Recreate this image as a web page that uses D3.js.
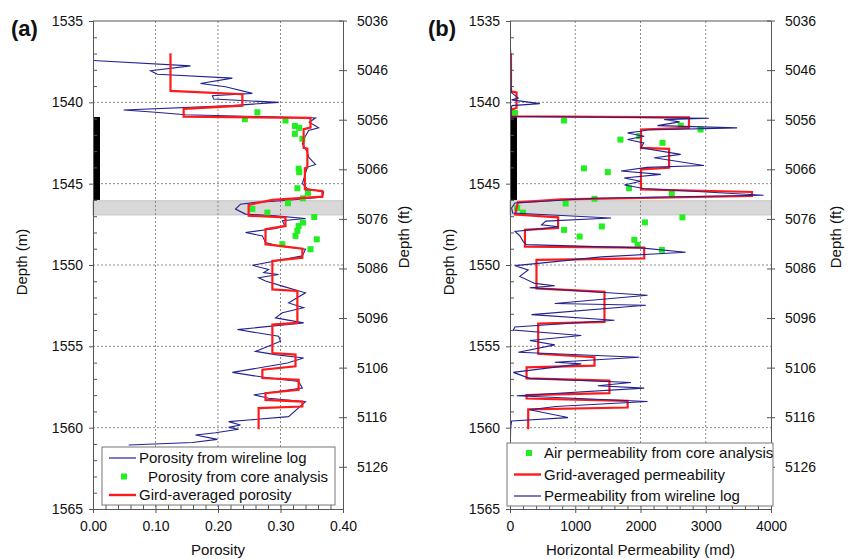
<!DOCTYPE html>
<html>
<head>
<meta charset="utf-8">
<script src="https://cdn.jsdelivr.net/npm/d3@7"></script>
<style>
  body { margin: 0; background: #fff; }
  text { font-family: Arial, "Liberation Sans", sans-serif; fill: #111; }
</style>
</head>
<body>
<svg id="chart" width="853" height="559"></svg>
<script>
// ---- data (depth in m) ----
const depthTicks = d3.range(1535, 1566, 5);
const ftTicks = d3.range(5036, 5127, 10);
const porosityTicks = [0, 0.1, 0.2, 0.3, 0.4];
const permTicks = [0, 1000, 2000, 3000, 4000];

const coredInterval = [1540.9, 1546.0];
const shaleBand = [1546.05, 1546.92];

// [depth, porosity]
const porosityLog = [
  [1537.43,0],[1537.76,0.156],[1538.06,0.092],[1538.27,0.103],[1538.51,0.223],[1538.84,0.172],
  [1539.04,0.212],[1539.45,0.255],[1539.59,0.191],[1539.8,0.193],[1540.0,0.297],[1540.2,0.223],
  [1540.47,0.049],[1540.61,0.1],[1540.76,0.148],[1540.96,0.356],[1541.22,0.346],[1541.57,0.361],
  [1541.73,0.345],[1542.14,0.339],[1542.55,0.335],[1543.06,0.343],[1543.37,0.345],[1543.82,0.356],
  [1543.98,0.343],[1544.49,0.339],[1545.0,0.335],[1545.31,0.343],[1545.51,0.369],[1545.82,0.367],
  [1546.02,0.313],[1546.15,0.26],[1546.26,0.236],[1546.56,0.228],[1546.87,0.244],[1546.98,0.292],
  [1547.14,0.34],[1547.28,0.303],[1547.59,0.307],[1547.76,0.292],[1548.0,0.244],[1548.21,0.271],
  [1548.62,0.276],[1548.83,0.297],[1549.03,0.34],[1549.44,0.335],[1550.02,0.255],[1550.27,0.281],
  [1550.47,0.273],[1550.58,0.297],[1550.78,0.265],[1550.99,0.276],[1551.3,0.303],[1551.71,0.34],
  [1552.33,0.313],[1552.63,0.337],[1552.94,0.303],[1553.25,0.292],[1553.56,0.337],[1553.97,0.231],
  [1554.38,0.297],[1554.69,0.3],[1555.31,0.26],[1555.51,0.292],[1555.72,0.337],[1556.03,0.311],
  [1556.6,0.223],[1556.89,0.271],[1557.16,0.329],[1557.57,0.335],[1557.98,0.257],[1558.19,0.281],
  [1558.4,0.34],[1559.32,0.313],[1559.53,0.249],[1559.63,0.217],[1559.84,0.236],[1559.98,0.217],
  [1560.1,0.233],[1560.31,0.196],[1560.45,0.164],[1560.72,0.199],[1560.91,0.159],[1561.07,0.057]
];

const porosityCore = [
  [1540.61,0.263],[1541.04,0.243],[1541.12,0.308],[1541.45,0.323],[1541.57,0.33],[1541.94,0.323],
  [1542.24,0.335],[1544.08,0.329],[1544.29,0.33],[1545.28,0.327],[1545.57,0.344],[1545.9,0.336],
  [1546.2,0.312],[1546.55,0.255],[1546.78,0.279],[1547.05,0.354],[1547.39,0.336],[1547.6,0.329],
  [1547.9,0.327],[1548.21,0.324],[1548.42,0.358],[1548.72,0.303],[1549.03,0.348]
];

const porosityGrid = [
  [1536.98,0.124],[1539.3,0.124],[1539.5,0.239],[1540.2,0.239],[1540.4,0.145],[1540.88,0.145],
  [1540.96,0.348],[1541.55,0.348],[1541.65,0.337],[1542.8,0.337],[1542.85,0.343],[1544.0,0.343],
  [1544.05,0.339],[1545.35,0.339],[1545.45,0.367],[1545.8,0.367],[1546.0,0.287],[1546.3,0.249],
  [1546.97,0.249],[1547.08,0.308],[1547.6,0.308],[1547.8,0.276],[1548.72,0.276],[1549.0,0.335],
  [1549.55,0.335],[1549.75,0.287],[1551.5,0.287],[1551.6,0.327],[1553.56,0.327],[1553.66,0.287],
  [1555.41,0.287],[1555.51,0.324],[1556.23,0.324],[1556.44,0.271],[1556.95,0.271],[1557.06,0.329],
  [1557.67,0.329],[1557.88,0.276],[1558.29,0.276],[1558.4,0.335],[1558.7,0.335],[1558.8,0.265],
  [1560.1,0.265]
];

// [depth, permeability md]
const permLog = [
  [1536.8,10],[1538.5,15],[1539.4,20],[1539.73,127],[1539.85,25],[1540.08,457],[1540.2,30],
  [1540.45,15],[1540.86,20],[1540.98,3048],[1541.06,2362],[1541.2,2600],[1541.43,2260],[1541.57,3480],
  [1541.7,2100],[1541.78,2007],[1541.88,1803],[1542.08,2057],[1542.29,1803],[1542.5,2050],[1542.8,2007],
  [1543.2,2616],[1543.41,2210],[1543.88,2972],[1544.0,2100],[1544.22,1702],[1544.43,2311],[1544.65,1750],
  [1544.85,2000],[1545.08,1753],[1545.3,2050],[1545.71,3886],[1545.9,1300],[1546.19,76],[1546.49,25],
  [1546.8,40],[1547.11,1549],[1547.3,550],[1547.53,483],[1547.65,750],[1547.94,76],[1548.2,150],
  [1548.56,203],[1548.75,250],[1548.95,2000],[1549.22,2692],[1549.5,1400],[1549.9,432],[1550.04,76],
  [1550.31,279],[1550.7,150],[1551.13,381],[1551.28,686],[1551.4,300],[1551.86,2108],[1552.37,686],
  [1552.47,2083],[1553.05,330],[1553.4,1600],[1553.81,76],[1554.0,50],[1554.33,1092],[1554.64,305],
  [1554.91,686],[1555.36,127],[1555.67,1981],[1555.98,686],[1556.08,1092],[1556.6,51],[1556.97,300],
  [1557.22,1854],[1557.42,1346],[1557.57,2057],[1558.04,102],[1558.39,2108],[1558.7,700],[1558.9,300],
  [1559.38,889],[1559.59,25],[1560.0,10],[1561.0,5]
];

const permCore = [
  [1540.65,76],[1541.12,828],[1541.43,2616],[1541.67,2921],[1542.08,1981],[1542.29,1692],
  [1542.49,2337],[1544.06,1133],[1544.29,1499],[1545.28,1825],[1545.63,2479],[1545.93,1295],
  [1546.22,853],[1546.5,110],[1546.78,200],[1547.07,2642],[1547.38,2068],[1547.63,1407],
  [1547.84,828],[1548.25,1067],[1548.45,1905],[1548.76,1956],[1549.07,2327]
];

const permGrid = [
  [1536.98,15],[1539.33,15],[1539.39,100],[1540.35,100],[1540.45,15],[1540.86,15],[1540.92,2743],
  [1541.57,2743],[1541.67,2007],[1542.8,2007],[1542.86,2438],[1544.02,2438],[1544.12,2007],
  [1545.35,2007],[1545.51,3708],[1545.76,3708],[1545.96,787],[1546.15,120],[1546.9,80],[1547.07,737],
  [1547.73,737],[1547.84,229],[1548.87,229],[1548.93,2057],[1549.59,2057],[1549.69,406],[1551.44,406],
  [1551.65,1448],[1553.5,1448],[1553.6,432],[1555.46,432],[1555.67,1295],[1556.19,1295],[1556.29,254],
  [1556.97,254],[1557.11,1524],[1557.88,1524],[1558.0,254],[1558.21,254],[1558.35,1803],[1558.76,1803],
  [1558.87,279],[1560.1,279]
];

const BLUE = '#23238f', RED = '#ff1a1a', GREEN = '#22ee22';

let svg = d3.select('#chart');
const plotTop = 21, plotBottom = 509;

let y = d3.scaleLinear().domain([1535, 1565]).range([plotTop, plotBottom]);
let yFt = d3.scaleLinear().domain([1535 * 3.28084, 1565 * 3.28084]).range([plotTop, plotBottom]);

function drawPanel(opt) {
  let x = opt.x;
  let [x0, x1] = x.range();
  let g = svg.append('g');

  let clipId = 'clip-' + opt.id;
  svg.append('clipPath').attr('id', clipId)
    .append('rect').attr('x', x0).attr('y', plotTop).attr('width', x1 - x0).attr('height', plotBottom - plotTop);

  // gray band
  g.append('rect')
    .attr('x', x0).attr('width', x1 - x0)
    .attr('y', y(shaleBand[0])).attr('height', y(shaleBand[1]) - y(shaleBand[0]))
    .style('fill', '#d8d8d8').style('stroke', '#c4c4c4');

  // grid
  g.selectAll('.vgrid').data(opt.ticks.slice(1, -1)).join('line')
    .attr('x1', d => x(d)).attr('x2', d => x(d)).attr('y1', plotTop).attr('y2', plotBottom)
    .style('stroke', '#8a8a8a').style('stroke-dasharray', '2,2');
  g.selectAll('.hgrid').data(depthTicks.slice(1, -1)).join('line')
    .attr('x1', x0).attr('x2', x1).attr('y1', d => y(d)).attr('y2', d => y(d))
    .style('stroke', '#8a8a8a').style('stroke-dasharray', '2,2');

  // cored interval bar
  g.append('rect')
    .attr('x', x0).attr('width', 7)
    .attr('y', y(coredInterval[0])).attr('height', y(coredInterval[1]) - y(coredInterval[0]))
    .style('fill', '#000');

  let line = d3.line().x(d => x(d[1])).y(d => y(d[0]));
  let marks = g.append('g').attr('clip-path', 'url(#' + clipId + ')');

  opt.order.forEach(k => {
    if (k === 'log') {
      marks.append('path').datum(opt.log).attr('d', line)
        .style('fill', 'none').style('stroke', BLUE).style('stroke-width', 1.1);
    } else if (k === 'grid') {
      marks.append('path').datum(opt.grid).attr('d', line)
        .style('fill', 'none').style('stroke', RED).style('stroke-width', 2.2);
    } else {
      marks.selectAll('.core').data(opt.core).join('rect')
        .attr('x', d => x(d[1]) - 3).attr('y', d => y(d[0]) - 3)
        .attr('width', 6).attr('height', 6).style('fill', GREEN);
    }
  });

  // axes
  let axisStyle = sel => {
    sel.selectAll('path, line').style('stroke', '#555');
    sel.selectAll('text').style('font-size', '14px').style('fill', '#111');
  };
  g.append('g').attr('transform', `translate(${x0},0)`)
    .call(d3.axisLeft(y).tickValues(depthTicks).tickFormat(d3.format('d')).tickSize(4).tickPadding(6))
    .call(axisStyle);
  g.append('g').attr('transform', `translate(${x0},0)`)
    .call(d3.axisLeft(y).tickValues(d3.range(1536, 1565, 1).filter(d => d % 5)).tickFormat('').tickSize(-4).tickSizeOuter(0))
    .call(axisStyle);

  g.append('g').attr('transform', `translate(0,${plotBottom})`)
    .call(d3.axisBottom(x).tickValues(opt.ticks).tickFormat(opt.format).tickSize(4).tickPadding(8))
    .call(axisStyle);
  g.append('g').attr('transform', `translate(0,${plotBottom})`)
    .call(d3.axisBottom(x).tickValues(opt.minor).tickFormat('').tickSize(-4).tickSizeOuter(0))
    .call(axisStyle);

  g.append('g').attr('transform', `translate(${x1},0)`)
    .call(d3.axisRight(yFt).tickValues(ftTicks).tickFormat(d3.format('d')).tickSize(4).tickPadding(10).tickSizeOuter(0))
    .call(axisStyle);
  g.append('g').attr('transform', `translate(${x1},0)`)
    .call(d3.axisRight(yFt).tickValues(ftTicks).tickFormat('').tickSize(-4).tickSizeOuter(0))
    .call(axisStyle);

  g.append('line').attr('x1', x0).attr('x2', x1).attr('y1', plotTop).attr('y2', plotTop).style('stroke', '#555');

  // titles
  g.append('text').attr('x', opt.labelX).attr('y', 36)
    .style('font-size', '22px').style('font-weight', 'bold').text(opt.label);
  g.append('text').attr('transform', `translate(${x0 - opt.leftTitleGap},262) rotate(-90)`)
    .attr('text-anchor', 'middle').style('font-size', '15px').text('Depth (m)');
  g.append('text').attr('transform', `translate(${x1 + opt.rightTitleGap},237) rotate(-90)`)
    .attr('text-anchor', 'middle').style('font-size', '15px').text('Depth (ft)');
  g.append('text').attr('x', (x0 + x1) / 2).attr('y', 555)
    .attr('text-anchor', 'middle').style('font-size', '15px').text(opt.xTitle);

  // legend
  let lg = g.append('g');
  let L = opt.legend;
  lg.append('rect').attr('x', L.x).attr('y', L.y)
    .attr('width', L.w).attr('height', L.h)
    .style('fill', '#fff').style('stroke', '#777');
  L.items.forEach((it, i) => {
    let cy = L.y + L.first + i * L.step;
    let lx = L.x + 7;
    if (it.kind === 'core') {
      lg.append('rect').attr('x', lx + 12).attr('y', cy - 3).attr('width', 6).attr('height', 6).style('fill', GREEN);
    } else {
      lg.append('line').attr('x1', lx).attr('x2', lx + 27).attr('y1', cy).attr('y2', cy)
        .style('stroke', it.kind === 'log' ? BLUE : RED).style('stroke-width', it.kind === 'log' ? 1.2 : 2.4);
    }
    lg.append('text').attr('x', lx + 30 + (it.indent || 0)).attr('y', cy + 5)
      .style('font-size', '15px').text(it.text);
  });
}

drawPanel({
  id: 'a', label: '(a)', labelX: 11,
  x: d3.scaleLinear().domain([0, 0.4]).range([93, 343]),
  ticks: porosityTicks, minor: d3.range(0.02, 0.4, 0.02), format: d3.format('.2f'),
  log: porosityLog, core: porosityCore, grid: porosityGrid,
  order: ['log', 'core', 'grid'],
  xTitle: 'Porosity', leftTitleGap: 66, rightTitleGap: 66,
  legend: { x: 102, y: 447, w: 233, h: 58, first: 11, step: 18.5, items: [
    { kind: 'log', text: 'Porosity from wireline log' },
    { kind: 'core', text: 'Porosity from core analysis', indent: 9 },
    { kind: 'grid', text: 'Gird-averaged porosity' }
  ] }
});

drawPanel({
  id: 'b', label: '(b)', labelX: 428,
  x: d3.scaleLinear().domain([0, 4000]).range([510, 771]),
  ticks: permTicks, minor: d3.range(200, 4000, 200), format: d3.format('d'),
  log: permLog, core: permCore, grid: permGrid,
  order: ['core', 'grid', 'log'],
  xTitle: 'Horizontal Permeability (md)', leftTitleGap: 56, rightTitleGap: 70,
  legend: { x: 507, y: 443, w: 266, h: 63, first: 10, step: 21.5, items: [
    { kind: 'core', text: 'Air permeability from core analysis' },
    { kind: 'grid', text: 'Grid-averaged permeability' },
    { kind: 'log', text: 'Permeability from wireline log' }
  ] }
});
</script>
</body>
</html>
